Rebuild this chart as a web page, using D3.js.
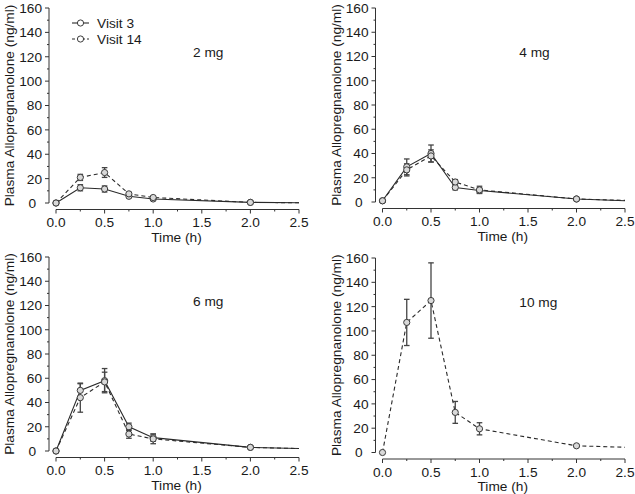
<!DOCTYPE html>
<html><head><meta charset="utf-8">
<script src="https://cdn.jsdelivr.net/npm/d3@7"></script>
<style>
html,body{margin:0;padding:0;background:#fff;}
svg{display:block;font-family:"Liberation Sans",Arial,sans-serif;}
</style></head>
<body><svg id="c" width="635" height="494"></svg>
<script>
// ---- data ----
const times = [0, 0.25, 0.5, 0.75, 1.0, 2.0, 2.5];
const hasMarker = [true, true, true, true, true, true, false];
const doses = ["2 mg", "4 mg", "6 mg", "10 mg"];
const seriesNames = ["Visit 3", "Visit 14"];
const v3_2mg   = [0, 12.5, 11.5, 5.5, 3.3, 0.5, 0.2];
const v3_2mgE  = [0, 2.5, 2.5, 1.0, 0.8, 0.3, 0];
const v14_2mg  = [0, 21, 25, 7.5, 4.5, 0.5, 0.2];
const v14_2mgE = [0, 2.5, 4, 1.2, 1.0, 0.3, 0];
const v3_4mg   = [1, 29, 40, 12, 9.5, 2.5, 1.0];
const v3_4mgE  = [1, 6.5, 7, 2, 2, 0.5, 0];
const v14_4mg  = [1, 26.5, 38, 16.5, 10, 2.5, 1.3];
const v14_4mgE = [1, 5, 5, 2, 3, 0.5, 0];
const v3_6mg   = [0, 50, 58, 20, 11, 3, 2];
const v3_6mgE  = [0, 5.5, 10, 3, 3, 0.5, 0];
const v14_6mg  = [0, 44, 57, 14, 10, 3, 2];
const v14_6mgE = [0, 12, 8, 3.5, 4, 0.5, 0];
const v14_10mg  = [0, 107, 125, 33, 19.5, 5.5, 4.3];
const v14_10mgE = [0, 19, 31, 9, 5, 0.8, 0];
const xTicks = [0, 0.5, 1.0, 1.5, 2.0, 2.5];
const xMinor = [0.25, 0.75, 1.25, 1.75, 2.25];
const yTicks = [0, 20, 40, 60, 80, 100, 120, 140, 160];
const yMinor = [10, 30, 50, 70, 90, 110, 130, 150];
const xTitle = "Time (h)";
const yTitle = "Plasma Allopregnanolone (ng/ml)";

// ---- layout ----
const panels = [
  {label: doses[0], x0: 56, x1: 299, y0: 203, y1: 8, series: [[v3_2mg, v3_2mgE, false], [v14_2mg, v14_2mgE, true]], legend: true},
  {label: doses[1], x0: 382.5, x1: 625, y0: 202, y1: 8, series: [[v3_4mg, v3_4mgE, false], [v14_4mg, v14_4mgE, true]]},
  {label: doses[2], x0: 56, x1: 299, y0: 451, y1: 257, series: [[v3_6mg, v3_6mgE, false], [v14_6mg, v14_6mgE, true]]},
  {label: doses[3], x0: 382.5, x1: 625, y0: 452.5, y1: 258, series: [[v14_10mg, v14_10mgE, true]]}
];

const svg = d3.select("#c");
const FS = 13.7;
const axisCol = "#333", textCol = "#1a1a1a", lineCol = "#2a2a2a";

panels.forEach(p => {
  const x = d3.scaleLinear().domain([0, 2.5]).range([p.x0, p.x1]);
  const y = d3.scaleLinear().domain([0, 160]).range([p.y0, p.y1]);
  const g = svg.append("g");
  const yAxX = p.x0 - 7, xAxY = p.y0 + 6.5;

  // y axis
  const ya = g.append("g").attr("transform", `translate(${yAxX},0)`);
  ya.append("line").attr("y1", y(0)).attr("y2", y(160)).attr("stroke", axisCol).attr("stroke-width", 1);
  ya.selectAll(".mj").data(yTicks).join("line").attr("x1", -4).attr("x2", 0)
    .attr("y1", d => y(d)).attr("y2", d => y(d)).attr("stroke", axisCol);
  ya.selectAll(".mn").data(yMinor).join("line").attr("class","mn").attr("x1", -2).attr("x2", 0)
    .attr("y1", d => y(d)).attr("y2", d => y(d)).attr("stroke", axisCol);
  ya.selectAll("text").data(yTicks).join("text")
    .attr("x", d => d === 0 ? -13 : -7).attr("y", d => y(d)).attr("dy", "0.36em")
    .attr("text-anchor", "end").attr("font-size", FS).attr("fill", textCol).text(d => d);

  // x axis
  const xa = g.append("g").attr("transform", `translate(0,${xAxY})`);
  xa.append("line").attr("x1", x(0)).attr("x2", x(2.5)).attr("stroke", axisCol);
  xa.selectAll(".mj").data(xTicks).join("line").attr("y1", 0).attr("y2", 4)
    .attr("x1", d => x(d)).attr("x2", d => x(d)).attr("stroke", axisCol);
  xa.selectAll(".mn").data(xMinor).join("line").attr("class","mn").attr("y1", 0).attr("y2", 2)
    .attr("x1", d => x(d)).attr("x2", d => x(d)).attr("stroke", axisCol);
  xa.selectAll("text").data(xTicks).join("text")
    .attr("x", d => x(d)).attr("y", 17.5).attr("text-anchor", "middle")
    .attr("font-size", FS).attr("fill", textCol).text(d => d3.format(".1f")(d));

  g.append("text").attr("x", (p.x0 + p.x1) / 2 - 1).attr("y", xAxY + 32)
    .attr("text-anchor", "middle").attr("font-size", FS).attr("fill", textCol).text(xTitle);
  g.append("text").attr("transform", `translate(${p.x0 - 42},${(y(0) + y(160)) / 2}) rotate(-90)`)
    .attr("text-anchor", "middle").attr("font-size", FS).attr("fill", textCol).text(yTitle);

  g.append("text").attr("x", x(1.41)).attr("y", y(124)).attr("dy", "0.36em")
    .attr("text-anchor", "start").attr("font-size", FS).attr("fill", textCol).text(p.label);

  const line = d3.line().x((d, i) => x(times[i])).y(d => y(d));
  p.series.forEach(([vals, errs, dashed]) => {
    g.append("path").attr("d", line(vals)).attr("fill", "none")
      .attr("stroke", lineCol).attr("stroke-width", 1.1)
      .attr("stroke-dasharray", dashed ? "4,3" : null);
  });
  p.series.forEach(([vals, errs]) => {
    vals.forEach((v, i) => {
      if (!hasMarker[i] || !errs[i]) return;
      const cx = x(times[i]);
      const eg = g.append("g").attr("stroke", "#444").attr("stroke-width", 1.3);
      eg.append("line").attr("x1", cx).attr("x2", cx).attr("y1", y(v - errs[i])).attr("y2", y(v + errs[i]));
      [v - errs[i], v + errs[i]].forEach(e =>
        eg.append("line").attr("x1", cx - 2.8).attr("x2", cx + 2.8).attr("y1", y(e)).attr("y2", y(e)));
    });
  });
  p.series.forEach(([vals]) => {
    g.selectAll(null).data(vals.filter((v, i) => hasMarker[i]).map((v, i) => [times[i], v]))
      .join("circle").attr("cx", d => x(d[0])).attr("cy", d => y(d[1])).attr("r", 3.1)
      .attr("fill", "#d9d9d9").attr("stroke", "#3a3a3a").attr("stroke-width", 1);
  });

  if (p.legend) {
    seriesNames.forEach((name, i) => {
      const ly = 23 + i * 16;
      g.append("line").attr("x1", 72).attr("x2", 89).attr("y1", ly).attr("y2", ly)
        .attr("stroke", lineCol).attr("stroke-width", 1.1).attr("stroke-dasharray", i ? "3,2" : null);
      g.append("circle").attr("cx", 80.5).attr("cy", ly).attr("r", 3.1)
        .attr("fill", "#fff").attr("stroke", "#3a3a3a");
      g.append("text").attr("x", 97).attr("y", ly).attr("dy", "0.36em")
        .attr("font-size", FS).attr("fill", textCol).text(name);
    });
  }
});
</script></body></html>
